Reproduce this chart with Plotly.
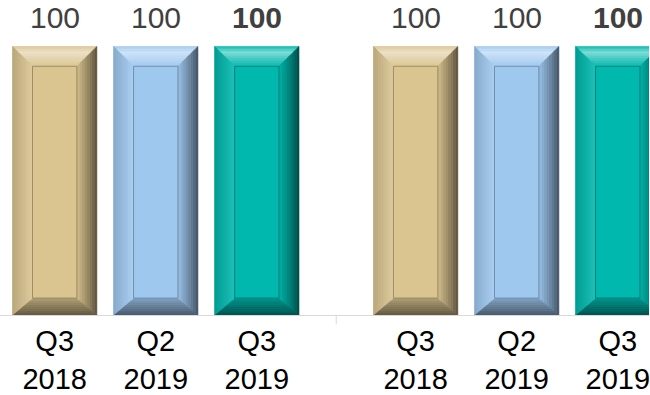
import plotly.graph_objects as go

# ---- data ----
groups = ["A", "B"]
periods = ["Q3<br>2018", "Q2<br>2019", "Q3<br>2019"]
values = {
    "Q3 2018": [100, 100],
    "Q2 2019": [100, 100],
    "Q3 2019": [100, 100],
}
series_names = list(values.keys())
colors = ["#DAC490", "#9FC8EF", "#00B8AD"]
bold_series = [False, False, True]

# ---- layout geometry (px of the 650x395 page) ----
W, H = 650, 395
MB = 77
PH = H - MB
UNIT_PX = 361.5           # px per category unit
X0 = -156 / UNIT_PX
X1 = X0 + W / UNIT_PX
YMAX = 117.3
PITCH = 0.28
BW = 0.2337

px_x = 1 / UNIT_PX
px_y = YMAX / PH


def hex2rgb(h):
    h = h.lstrip("#")
    return [int(h[i:i + 2], 16) for i in (0, 2, 4)]


def mix(c1, c2, t):
    return [c1[i] + (c2[i] - c1[i]) * t for i in range(3)]


def css(c):
    return "rgb(%d,%d,%d)" % tuple(max(0, min(255, round(v))) for v in c)


def shade(base, k):
    return mix(base, [0, 0, 0], k)


def tint(base, k):
    return mix(base, [255, 255, 255], k)


def face_color(face, base, t):
    if face == "top":
        if t < 0.3:
            return mix(tint(base, 0.05), tint(base, 0.5), t / 0.3)
        return mix(tint(base, 0.5), tint(base, 0.05), (t - 0.3) / 0.7)
    if face == "left":
        return mix(shade(base, 0.15), tint(base, 0.12), t)
    if face == "right":
        return mix(shade(base, 0.62), shade(base, 0.05), t ** 0.8)
    if face == "bottom":
        return mix(shade(base, 0.55), shade(base, 0.2), t)


fig = go.Figure()
shapes = []
annotations = []
tickvals, ticktext = [], []

BX = 20 * px_x
BT = 20 * px_y
BB = 17 * px_y
NS = 8

for s, name in enumerate(series_names):
    xs = [g + (s - 1) * PITCH for g in range(len(groups))]
    ys = values[name]
    base = hex2rgb(colors[s])
    fig.add_trace(go.Bar(
        x=xs, y=ys, width=[BW] * len(xs), name=name,
        marker=dict(color=colors[s], line=dict(width=0)),
        showlegend=False, hoverinfo="skip",
    ))
    for x, y in zip(xs, ys):
        tickvals.append(x)
        ticktext.append(periods[s])
        annotations.append(dict(
            x=x, y=y, xref="x", yref="y", text=str(y), showarrow=False,
            yanchor="middle", yshift=29,
            font=dict(family="Liberation Sans, Arial", size=30, color="#404040",
                      weight="bold" if bold_series[s] else "normal"),
        ))
        L, R, B, T = x - BW / 2, x + BW / 2, 0, y

        def rect(t):
            return (L + BX * t, R - BX * t, B + BB * t, T - BT * t)

        for i in range(NS):
            t0, t1 = i / NS, (i + 1) / NS
            a, b = rect(t0), rect(t1)
            tm = (t0 + t1) / 2
            polys = {
                "top": [(a[0], a[3]), (a[1], a[3]), (b[1], b[3]), (b[0], b[3])],
                "bottom": [(a[0], a[2]), (a[1], a[2]), (b[1], b[2]), (b[0], b[2])],
                "left": [(a[0], a[2]), (a[0], a[3]), (b[0], b[3]), (b[0], b[2])],
                "right": [(a[1], a[2]), (a[1], a[3]), (b[1], b[3]), (b[1], b[2])],
            }
            for face, pts in polys.items():
                path = "M " + " L ".join("%f,%f" % p for p in pts) + " Z"
                c = css(face_color(face, base, tm))
                shapes.append(dict(type="path", path=path, xref="x", yref="y",
                                   fillcolor=c, line=dict(width=0.6, color=c),
                                   layer="above"))
        ir = rect(1)
        shapes.append(dict(type="rect", xref="x", yref="y",
                           x0=ir[0], x1=ir[1], y0=ir[2], y1=ir[3],
                           line=dict(width=1, color=css(shade(base, 0.28))),
                           fillcolor="rgba(0,0,0,0)", layer="above"))

# separator tick between the two groups
for g in range(len(groups) + 1):
    xb = g - 0.5
    shapes.append(dict(type="line", xref="x", yref="paper", x0=xb, x1=xb,
                       y0=0, y1=-9 / PH, line=dict(color="#D9D9D9", width=1)))

fig.update_layout(
    width=W, height=H,
    margin=dict(l=0, r=0, t=0, b=MB, pad=0),
    paper_bgcolor="white", plot_bgcolor="white",
    barmode="overlay",
    shapes=shapes, annotations=annotations,
    xaxis=dict(range=[X0, X1], tickvals=tickvals, ticktext=ticktext,
               ticks="", showgrid=False, zeroline=False,
               showline=True, linecolor="#D9D9D9", linewidth=1,
               ticklabeloverflow="allow",
               tickfont=dict(family="Liberation Sans, Arial", size=29, color="#000000"),
               fixedrange=True),
    yaxis=dict(range=[0, YMAX], visible=False, showgrid=False, zeroline=False,
               fixedrange=True),
)

fig.write_html("out.html", config={"displayModeBar": False})
